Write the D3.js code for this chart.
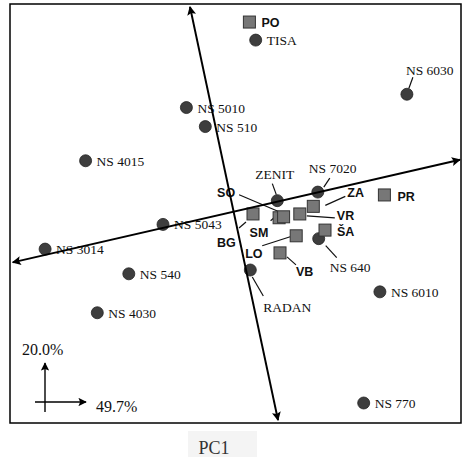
<!DOCTYPE html>
<html><head><meta charset="utf-8">
<script src="https://cdn.jsdelivr.net/npm/d3@7"></script>
<style>body{margin:0;background:#fff}svg{display:block}
.serif{font-family:'Liberation Serif','Times New Roman','DejaVu Serif',serif}
.sans{font-family:'Liberation Sans',Arial,sans-serif;font-weight:bold}</style>
</head><body><svg id="c" width="465" height="459"></svg>
<script>
// Cultivars (circles): PC1, PC2 scores
const cultivars = ["TISA","NS 6030","NS 5010","NS 510","NS 4015","ZENIT","NS 7020","NS 5043","NS 3014","NS 540","NS 4030","NS 640","RADAN","NS 6010","NS 770"];
const cultPC1 = [0.23, 1.91, -0.54, -0.33, -1.66, 0.47, 0.92, -0.80, -2.11, -1.18, -1.53, 0.93, 0.17, 1.61, 1.43];
const cultPC2 = [1.82, 1.25, 1.11, 0.91, 0.55, 0.13, 0.22, -0.12, -0.38, -0.64, -1.05, -0.27, -0.60, -0.83, -2.00];
// Locations (squares)
const locations = ["PO","PR","ZA","VR","SO","SM","BG","ŠA","LO","VB"];
const locPC1 = [0.16, 1.66, 0.87, 0.72, 0.49, 0.54, 0.20, 1.00, 0.68, 0.50];
const locPC2 = [2.01, 0.19, 0.07, -0.01, -0.05, -0.04, -0.01, -0.18, -0.24, -0.42];
// Axis vectors (start, end)
const axisNames = ["PC2axis","PC1axis"];
const axisX1 = [0.478, -2.47], axisY1 = [-2.18, -0.52];
const axisX2 = [-0.50, 2.50],  axisY2 = [2.17, 0.56];
const varPC1 = "49.7%", varPC2 = "20.0%", xTitle = "PC1";

// layout: label offsets (text dx,dy) and optional leader [x1,y1,x2,y2] relative to point
const labelLayout = {
  "ZENIT":[-22,-22,[-5,-17,-1,-6]],
  "NS 7020":[-9,-19,[12,-14,6,-5]],
  "NS 6030":[-1,-19,[6,-17,2,-6]],
  "NS 640":[11,33,[7,7,18,19]],
  "RADAN":[13,42,[2,7,13,26]],
  "PO":[12,5],"PR":[13,6],
  "ZA":[34,-9,[12,-1,32,-10]],
  "VR":[37,6,[7,2,35,4]],
  "ŠA":[12,6],
  "SO":[-62,-21,[-40,-23,0,-6]],
  "SM":[-34,20,[-13,4,-6,-2]],
  "BG":[-36,33,[-14,14,-7,8]],
  "LO":[-51,22,[-34,10,-6,1]],
  "VB":[16,23,[7,4,16,12]]
};

const svg = d3.select("#c");
const x = d3.scaleLinear().domain([-2.5, 2.5]).range([10, 460]);
const y = d3.scaleLinear().domain([-2.2, 2.2]).range([422, 4]);

// frame
svg.append("rect").attr("x",10).attr("y",4).attr("width",451).attr("height",419)
  .attr("fill","none").attr("stroke","#000").attr("stroke-width",1.5);

// x title
svg.append("rect").attr("x",188).attr("y",431).attr("width",69).attr("height",26).attr("fill","#f4f4f4");
svg.append("text").attr("class","serif").attr("x",214).attr("y",454).attr("text-anchor","middle")
  .attr("font-size",18).attr("fill","#333").text(xTitle);

const defs = svg.append("defs");
defs.append("marker").attr("id","ah").attr("viewBox","0 0 10 10").attr("refX",9).attr("refY",5)
  .attr("markerWidth",6).attr("markerHeight",4.5).attr("markerUnits","strokeWidth").attr("orient","auto-start-reverse")
  .append("path").attr("d","M0,0 L10,5 L0,10 L2,5 z").attr("fill","#000");
defs.append("marker").attr("id","ah2").attr("viewBox","0 0 10 10").attr("refX",9).attr("refY",5)
  .attr("markerWidth",7).attr("markerHeight",6).attr("markerUnits","strokeWidth").attr("orient","auto")
  .append("path").attr("d","M0,0 L10,5 L0,10 L2,5 z").attr("fill","#000");

const cult = cultivars.map((n,i)=>({name:n, px:x(cultPC1[i]), py:y(cultPC2[i])}));
const locs = locations.map((n,i)=>({name:n, px:x(locPC1[i]), py:y(locPC2[i])}));

const g = svg.append("g");
// leaders
const withLeader = cult.concat(locs).filter(d=>labelLayout[d.name] && labelLayout[d.name][2]);
g.selectAll("line.leader").data(withLeader).join("line").attr("class","leader")
  .attr("x1",d=>d.px+labelLayout[d.name][2][0]).attr("y1",d=>d.py+labelLayout[d.name][2][1])
  .attr("x2",d=>d.px+labelLayout[d.name][2][2]).attr("y2",d=>d.py+labelLayout[d.name][2][3])
  .attr("stroke","#111").attr("stroke-width",1.2);

// cultivar circles
g.selectAll("circle.c").data(cult).join("circle").attr("class","c")
  .attr("cx",d=>d.px).attr("cy",d=>d.py).attr("r",6)
  .attr("fill","#3e3e3e").attr("stroke","#222").attr("stroke-width",0.8);
g.selectAll("text.c").data(cult).join("text").attr("class","c serif")
  .attr("x",d=>d.px+(labelLayout[d.name]?labelLayout[d.name][0]:11))
  .attr("y",d=>d.py+(labelLayout[d.name]?labelLayout[d.name][1]:5))
  .attr("font-size",13.5).attr("fill","#111").text(d=>d.name);

// location squares
g.selectAll("rect.l").data(locs).join("rect").attr("class","l")
  .attr("x",d=>d.px-6).attr("y",d=>d.py-6).attr("width",12).attr("height",12)
  .attr("fill","#777").attr("stroke","#333").attr("stroke-width",1);
g.selectAll("text.l").data(locs).join("text").attr("class","l sans")
  .attr("x",d=>d.px+labelLayout[d.name][0]).attr("y",d=>d.py+labelLayout[d.name][1])
  .attr("font-size",12.5).attr("fill","#111").text(d=>d.name);

// biplot axes
svg.selectAll("line.ax").data(axisNames).join("line").attr("class","ax")
  .attr("x1",(d,i)=>x(axisX1[i])).attr("y1",(d,i)=>y(axisY1[i]))
  .attr("x2",(d,i)=>x(axisX2[i])).attr("y2",(d,i)=>y(axisY2[i]))
  .attr("stroke","#000").attr("stroke-width",2)
  .attr("marker-start","url(#ah)").attr("marker-end","url(#ah)");

// variance indicator
svg.append("line").attr("x1",45).attr("y1",412).attr("x2",45).attr("y2",363)
  .attr("stroke","#000").attr("stroke-width",1.4).attr("marker-end","url(#ah2)");
svg.append("line").attr("x1",35).attr("y1",402).attr("x2",86).attr("y2",402)
  .attr("stroke","#000").attr("stroke-width",1.4).attr("marker-end","url(#ah2)");
svg.append("text").attr("class","serif").attr("x",22).attr("y",355).attr("font-size",16).attr("fill","#111").text(varPC2);
svg.append("text").attr("class","serif").attr("x",96).attr("y",412).attr("font-size",16).attr("fill","#111").text(varPC1);
</script></body></html>
